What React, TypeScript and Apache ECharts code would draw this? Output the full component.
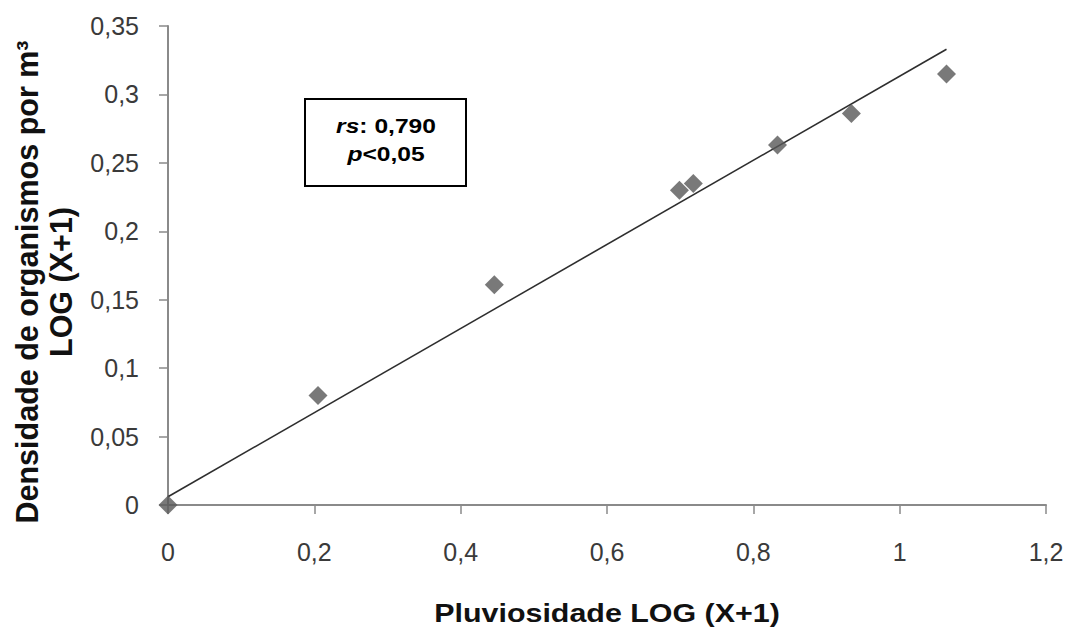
import React, { useEffect, useRef } from "react";
import * as echarts from "echarts";

const pluviosidade = [0, 0.205, 0.446, 0.699, 0.718, 0.833, 0.934, 1.064];
const densidade = [0, 0.08, 0.161, 0.23, 0.235, 0.263, 0.286, 0.315];
const trendX = [0, 1.064];
const trendY = [0.006, 0.333];
const xTitle = "Pluviosidade LOG (X+1)";
const yTitleLines = ["Densidade de organismos por m³", "LOG (X+1)"];
const statRs = "0,790";
const statP = "<0,05";

const FONT = "'Liberation Sans', Arial, Helvetica, sans-serif";
const fmt = (v: number) => String(+v.toFixed(2)).replace(".", ",");

export default function App() {
  const ref = useRef<HTMLDivElement>(null);
  useEffect(() => {
    if (!ref.current) return;
    const chart = echarts.init(ref.current, undefined, { renderer: "svg" });
    const pts = pluviosidade.map((x, i) => [x, densidade[i]]);
    const trend = trendX.map((x, i) => [x, trendY[i]]);
    chart.setOption({
      animation: false,
      backgroundColor: "#ffffff",
      grid: { left: 168, right: 24, top: 26, bottom: 129, containLabel: false },
      xAxis: {
        type: "value",
        min: 0,
        max: 1.2,
        interval: 0.2,
        splitLine: { show: false },
        axisLine: { show: true, onZero: false, lineStyle: { color: "#8a8a8a", width: 2 } },
        axisTick: { show: true, inside: false, length: 9, lineStyle: { color: "#8a8a8a", width: 1.5 } },
        axisLabel: {
          margin: 34,
          color: "#3a3a3a",
          fontFamily: FONT,
          fontSize: 25,
          formatter: (v: number) => fmt(v),
        },
      },
      yAxis: {
        type: "value",
        min: 0,
        max: 0.35,
        interval: 0.05,
        splitLine: { show: false },
        axisLine: { show: true, onZero: false, lineStyle: { color: "#8a8a8a", width: 2 } },
        axisTick: { show: true, inside: false, length: 9, lineStyle: { color: "#8a8a8a", width: 1.5 } },
        axisLabel: {
          margin: 29,
          color: "#3a3a3a",
          fontFamily: FONT,
          fontSize: 25,
          formatter: (v: number) => fmt(v),
        },
      },
      series: [
        {
          type: "line",
          data: trend,
          showSymbol: false,
          symbol: "none",
          lineStyle: { color: "#2e2e2e", width: 1.6 },
          z: 2,
          silent: true,
        },
        {
          type: "scatter",
          data: pts,
          symbol: "diamond",
          symbolSize: [19, 19],
          itemStyle: { color: "#575757" },
          z: 3,
        },
      ],
      graphic: [
        {
          type: "text",
          x: 44,
          y: 282,
          rotation: Math.PI / 2,
          style: {
            text: yTitleLines.join("\n"),
            fontFamily: FONT,
            fontSize: 30.5,
            fontWeight: "bold",
            lineHeight: 34,
            fill: "#111",
            align: "center",
            verticalAlign: "middle",
          },
        },
        {
          type: "text",
          x: 607,
          y: 613,
          scaleX: 1.17,
          style: {
            text: xTitle,
            fontFamily: FONT,
            fontSize: 26,
            fontWeight: "bold",
            fill: "#111",
            align: "center",
            verticalAlign: "middle",
          },
        },
        {
          type: "rect",
          shape: { x: 305, y: 99, width: 161, height: 87 },
          style: { fill: "#ffffff", stroke: "#000", lineWidth: 2 },
          z: 10,
        },
        {
          type: "text",
          x: 386,
          y: 140,
          z: 11,
          scaleX: 1.2,
          style: {
            text: `{i|rs}{b|: ${statRs}}\n{i|p}{b|${statP}}`,
            align: "center",
            verticalAlign: "middle",
            fontFamily: FONT,
            fontSize: 20.5,
            fontWeight: "bold",
            lineHeight: 28,
            fill: "#000",
            rich: {
              i: { fontFamily: FONT, fontSize: 20.5, fontWeight: "bold", fontStyle: "italic", fill: "#000", lineHeight: 28 },
              b: { fontFamily: FONT, fontSize: 20.5, fontWeight: "bold", fill: "#000", lineHeight: 28 },
            },
          },
        },
      ],
    });
    return () => chart.dispose();
  }, []);
  return (
    <div
      ref={ref}
      style={{ position: "absolute", left: 0, top: 0, width: 1070, height: 634 }}
    />
  );
}
